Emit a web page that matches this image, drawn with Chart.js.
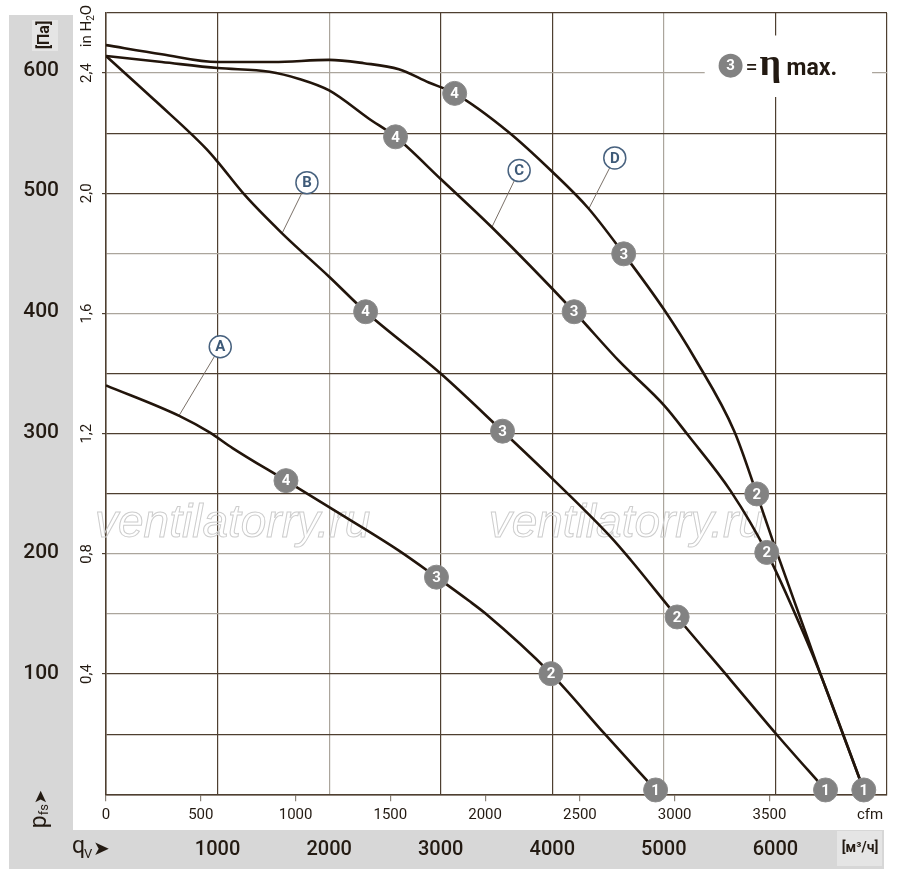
<!DOCTYPE html>
<html>
<head>
<meta charset="utf-8">
<script src="https://cdn.jsdelivr.net/npm/chart.js@4.4.1/dist/chart.umd.min.js"></script>
<style>
html, body { margin: 0; padding: 0; background: #fff; }
</style>
</head>
<body>
<canvas id="fanChart" width="900" height="881"></canvas>
<script>
const PA_PER_INH2O = 249.089;
const M3H_PER_CFM = 1.69901;

// characteristic curves A..D: flow q_V in m³/h, static pressure p_fs in Pa
const qA = [0, 661, 929, 1134, 1613, 2000, 2625, 2962, 3250, 3399, 3988, 4470, 4926];
const pA = [339, 313.5, 300, 287, 260, 238, 202, 180, 160.6, 150, 100, 50, 3.6];
const qB = [0, 452, 899, 1003, 1241, 1578, 2000, 2327, 2997, 3554, 3991, 4527, 4705, 5119, 5601, 6003, 6449];
const pB = [612, 574, 535, 524, 497, 465, 429, 400, 349, 301, 262.5, 213, 194, 147, 94.5, 50.4, 3.6];
const qC = [0, 500, 1000, 1464, 1732, 2000, 2357, 2595, 3000, 3458, 4196, 4600, 5006, 5214, 5598, 5922, 6268, 6402, 6792];
const pC = [612, 607, 602, 599, 593, 583.5, 560, 545, 510, 470, 400, 359, 322, 298, 251.5, 200.5, 130, 100, 3.6];
const qD = [0, 500, 1000, 1500, 2000, 2312, 2625, 2893, 3125, 3607, 4000, 4321, 4640, 5000, 5286, 5631, 5833, 5988, 6286, 6402, 6792];
const pD = [621, 613.5, 607, 607, 608.8, 606, 601, 590, 581, 549, 516, 486, 448, 402, 360, 301, 249, 207, 130, 100, 3.6];

// numbered operating points on the curves
const markQ = [1613, 2962, 3988, 4926, 2327, 3554, 5119, 6449, 2595, 4196, 5922, 6792, 3125, 4640, 5833];
const markP = [260, 180, 100, 3.6, 400, 301, 147, 3.6, 545, 400, 200.5, 3.6, 581, 448, 249];
const markNo = ['4', '3', '2', '1', '4', '3', '2', '1', '4', '3', '2', '1', '4', '3', '2'];

// curve name tags and where their leader lines touch the curve
const tagName = ['A', 'B', 'C', 'D'];
const tagQ = [1024, 1801, 3703, 4560];
const tagP = [371, 507, 517, 527.5];
const leadQ = [652, 1578, 3458, 4328];
const leadP = [313.5, 465, 470, 485.6];

// axis ticks
const m3hTicks = [0, 1000, 2000, 3000, 4000, 5000, 6000, 7000];
const cfmTicks = [0, 500, 1000, 1500, 2000, 2500, 3000, 3500];
const paTicks = [100, 200, 300, 400, 500, 600];
const inSteps = [0, 1, 2, 3, 4, 5, 6, 7, 8, 9, 10, 11, 12, 13]; // x 0,2 in H2O

const FONT = 'Roboto, "Liberation Sans", sans-serif';
const ink = '#231a12';
const gridDark = '#4e3f30';
const gridGray = '#aba59c';
const lightH = [3, 4, 8, 9, 12];
const lightV = [2000, 5000];

function pts(qs, ps) {
    return qs.map((q, i) => ({x: q, y: ps[i]}));
}

function curve(qs, ps) {
    return {
        data: pts(qs, ps),
        borderColor: '#22150b',
        borderWidth: 2.6,
        pointRadius: 0,
        cubicInterpolationMode: 'monotone',
        fill: false,
        order: 2
    };
}

let datasets = [curve(qA, pA), curve(qB, pB), curve(qC, pC), curve(qD, pD)];
for (let i = 0; i < tagName.length; i++) {
    datasets.push({
        data: [{x: tagQ[i], y: tagP[i]}, {x: leadQ[i], y: leadP[i]}],
        borderColor: '#7a7068',
        borderWidth: 1,
        pointRadius: 0,
        order: 3
    });
}
const markIdx = datasets.length;
datasets.push({
    data: pts(markQ, markP),
    showLine: false,
    pointRadius: 12,
    pointBackgroundColor: '#828282',
    pointBorderColor: '#8c8c8c',
    pointBorderWidth: 1,
    clip: false,
    order: 0
});
const tagIdx = datasets.length;
datasets.push({
    data: pts(tagQ, tagP),
    showLine: false,
    pointRadius: 11,
    pointBackgroundColor: '#ffffff',
    pointBorderColor: '#48627f',
    pointBorderWidth: 1.5,
    order: 0
});

function rotText(c, str, x, y, font, color) {
    c.save();
    c.translate(x, y);
    c.rotate(-Math.PI / 2);
    c.font = font;
    c.fillStyle = color;
    c.textAlign = 'center';
    c.textBaseline = 'middle';
    c.fillText(str, 0, 0);
    c.restore();
}

const decor = {
    id: 'decor',
    beforeDraw(chart) {
        const c = chart.ctx;
        const a = chart.chartArea;
        const xs = chart.scales.x;
        const yp = chart.scales.yPa;
        c.save();
        c.fillStyle = '#d7d7d7';
        c.fillRect(9, a.top + 2, yp.right - 2 - 9, xs.top - a.top - 2);
        c.fillRect(9, xs.top, a.right - 3 - 9, xs.bottom - xs.top);
        c.fillStyle = '#e5e5e5';
        c.fillRect(32, a.top + 7, 26, 31);
        c.fillRect(a.right - 50, xs.top + 1, 45, xs.bottom - xs.top - 4);
        c.restore();
    },
    beforeDatasetsDraw(chart) {
        const c = chart.ctx;
        const a = chart.chartArea;
        const xs = chart.scales.x;
        const ys = chart.scales.y;
        c.save();
        // watermark
        c.font = 'italic 46px "Liberation Sans", Arial, sans-serif';
        c.strokeStyle = '#cdcdcd';
        c.lineWidth = 1;
        c.textBaseline = 'alphabetic';
        c.strokeText('ventilatorry.ru', a.left - 11, ys.getPixelForValue(213));
        c.strokeText('ventilatorry.ru', xs.getPixelForValue(3430), ys.getPixelForValue(213));
        // eta max legend
        const bx1 = xs.getPixelForValue(5366), bx2 = xs.getPixelForValue(6866);
        const by1 = ys.getPixelForValue(629), by2 = ys.getPixelForValue(578);
        c.fillStyle = '#ffffff';
        c.fillRect(bx1, by1, bx2 - bx1, by2 - by1);
        const cx = xs.getPixelForValue(5598), cy = ys.getPixelForValue(604);
        c.fillStyle = '#828282';
        c.beginPath();
        c.arc(cx, cy, 12, 0, Math.PI * 2);
        c.fill();
        c.fillStyle = '#ffffff';
        c.font = 'bold 15px ' + FONT;
        c.textAlign = 'center';
        c.textBaseline = 'middle';
        c.fillText('3', cx, cy + 1);
        c.fillStyle = ink;
        c.textAlign = 'left';
        c.textBaseline = 'alphabetic';
        c.font = '22px ' + FONT;
        c.fillText('=', cx + 15, cy + 8);
        c.font = 'bold 38px "Liberation Serif", serif';
        c.fillText('\u03b7', cx + 29, cy + 9);
        c.font = 'bold 23px ' + FONT;
        c.fillText('max.', cx + 56, cy + 9);
        c.restore();
    },
    afterDatasetsDraw(chart) {
        const c = chart.ctx;
        c.save();
        c.textAlign = 'center';
        c.textBaseline = 'middle';
        c.font = 'bold 15px ' + FONT;
        c.fillStyle = '#ffffff';
        chart.getDatasetMeta(markIdx).data.forEach((p, i) => {
            c.fillText(markNo[i], p.x, p.y + 1);
        });
        c.font = 'bold 15px ' + FONT;
        c.fillStyle = '#3e5a78';
        chart.getDatasetMeta(tagIdx).data.forEach((p, i) => {
            c.fillText(tagName[i], p.x, p.y + 1);
        });
        c.restore();
    },
    afterDraw(chart) {
        const c = chart.ctx;
        const a = chart.chartArea;
        const xs = chart.scales.x;
        const yi = chart.scales.y;
        c.save();
        rotText(c, '[Па]', 45, a.top + 22, 'bold 16px ' + FONT, ink);
        // in H2O, rotated
        c.translate(yi.left + 12, a.top + 13);
        c.rotate(-Math.PI / 2);
        c.fillStyle = ink;
        c.textBaseline = 'middle';
        c.textAlign = 'left';
        c.font = '15px ' + FONT;
        const w1 = c.measureText('in H').width;
        c.font = '10px ' + FONT;
        const w2 = c.measureText('2').width;
        c.font = '15px ' + FONT;
        const w3 = c.measureText('O').width;
        let sx = -(w1 + w2 + w3) / 2;
        c.fillText('in H', sx, 0);
        c.font = '10px ' + FONT;
        c.fillText('2', sx + w1, 4);
        c.font = '15px ' + FONT;
        c.fillText('O', sx + w1 + w2, 0);
        c.restore();

        // p_fs arrow, rotated in left band
        c.save();
        c.translate(42, a.bottom + 14);
        c.rotate(-Math.PI / 2);
        c.fillStyle = ink;
        c.textBaseline = 'middle';
        c.textAlign = 'left';
        c.font = '23px ' + FONT;
        c.fillText('p', -20, -2);
        c.font = '13px ' + FONT;
        c.fillText('fs', -7, 3);
        c.font = '17px "DejaVu Sans", sans-serif';
        c.fillText('\u27a4', 4, 0);
        c.restore();

        // q_V arrow in bottom band
        c.save();
        const by = (xs.top + xs.bottom) / 2;
        c.fillStyle = ink;
        c.textBaseline = 'middle';
        c.textAlign = 'left';
        c.font = '23px ' + FONT;
        c.fillText('q', 72, by - 2);
        c.font = '13px ' + FONT;
        c.fillText('V', 84, by + 5);
        c.font = '20px "DejaVu Sans", sans-serif';
        c.fillText('\u27a4', 93, by);
        c.textAlign = 'center';
        c.font = 'bold 14px ' + FONT;
        c.fillText('[м³/ч]', a.right - 27, by - 1);
        c.restore();
    }
};

const ctx = document.getElementById('fanChart').getContext('2d');
const fanChart = new Chart(ctx, {
    type: 'line',
    data: {datasets: datasets},
    options: {
        responsive: false,
        animation: false,
        events: [],
        layout: {padding: {left: 0, top: 10, right: 10, bottom: 12}},
        plugins: {legend: {display: false}, tooltip: {enabled: false}},
        scales: {
            x: {
                type: 'linear',
                position: 'bottom',
                weight: 2,
                min: 0,
                max: 7000,
                afterBuildTicks: s => { s.ticks = m3hTicks.map(v => ({value: v})); },
                afterFit: s => { s.height = 39; s.paddingLeft = 0; s.paddingRight = 0; },
                ticks: {
                    callback: v => (v > 0 && v < 7000) ? String(v) : '',
                    font: {family: FONT, size: 20, weight: 500},
                    color: ink,
                    padding: 8,
                    autoSkip: false,
                    maxRotation: 0
                },
                grid: {
                    color: c => lightV.includes(c.tick && c.tick.value) ? gridGray : gridDark,
                    lineWidth: 1.2,
                    drawTicks: false
                },
                border: {display: false}
            },
            xc: {
                type: 'linear',
                position: 'bottom',
                weight: 1,
                min: 0,
                max: 7000 / M3H_PER_CFM,
                afterBuildTicks: s => { s.ticks = cfmTicks.concat([4031]).map(v => ({value: v})); },
                afterFit: s => { s.height = 35.7; s.paddingLeft = 0; s.paddingRight = 0; },
                ticks: {
                    callback: v => v > 3600 ? 'cfm' : String(v),
                    font: {family: FONT, size: 15},
                    color: ink,
                    padding: 5,
                    autoSkip: false,
                    maxRotation: 0
                },
                grid: {
                    drawOnChartArea: false,
                    tickLength: 7,
                    lineWidth: 1.2,
                    tickColor: c => (c.tick && c.tick.value > 3600) ? 'rgba(0,0,0,0)' : '#8a8278'
                },
                border: {display: true, color: gridDark, width: 1.5}
            },
            y: {
                type: 'linear',
                position: 'left',
                weight: 0,
                min: 0,
                max: 2.6 * PA_PER_INH2O,
                afterBuildTicks: s => { s.ticks = inSteps.map(k => ({value: k * 0.2 * PA_PER_INH2O})); },
                afterFit: s => { s.width = 31; s.paddingTop = 0; s.paddingBottom = 0; },
                ticks: {
                    callback: v => {
                        const k = Math.round(v / (0.2 * PA_PER_INH2O));
                        return (k % 2 === 0 && k > 0 && k < 13) ? (k * 0.2).toFixed(1).replace('.', ',') : '';
                    },
                    font: {family: FONT, size: 15},
                    color: ink,
                    minRotation: 90,
                    maxRotation: 90,
                    crossAlign: 'center',
                    padding: 5,
                    autoSkip: false
                },
                grid: {
                    color: c => {
                        const k = c.tick ? Math.round(c.tick.value / (0.2 * PA_PER_INH2O)) : 0;
                        return lightH.includes(k) ? gridGray : gridDark;
                    },
                    tickColor: c => {
                        const k = c.tick ? Math.round(c.tick.value / (0.2 * PA_PER_INH2O)) : 0;
                        return (k % 2 === 0 && k > 0 && k < 13) ? gridDark : 'rgba(0,0,0,0)';
                    },
                    lineWidth: 1.2,
                    tickLength: 4
                },
                border: {color: gridDark, width: 1.5}
            },
            yPa: {
                type: 'linear',
                position: 'left',
                weight: 1,
                min: 0,
                max: 2.6 * PA_PER_INH2O,
                afterBuildTicks: s => { s.ticks = paTicks.map(v => ({value: v})); },
                afterFit: s => { s.width = 75; s.paddingTop = 0; s.paddingBottom = 0; },
                ticks: {
                    font: {family: FONT, size: 21, weight: 500},
                    color: ink,
                    padding: 8,
                    autoSkip: false
                },
                grid: {display: false},
                border: {display: false}
            }
        }
    },
    plugins: [decor]
});
</script>
</body>
</html>
